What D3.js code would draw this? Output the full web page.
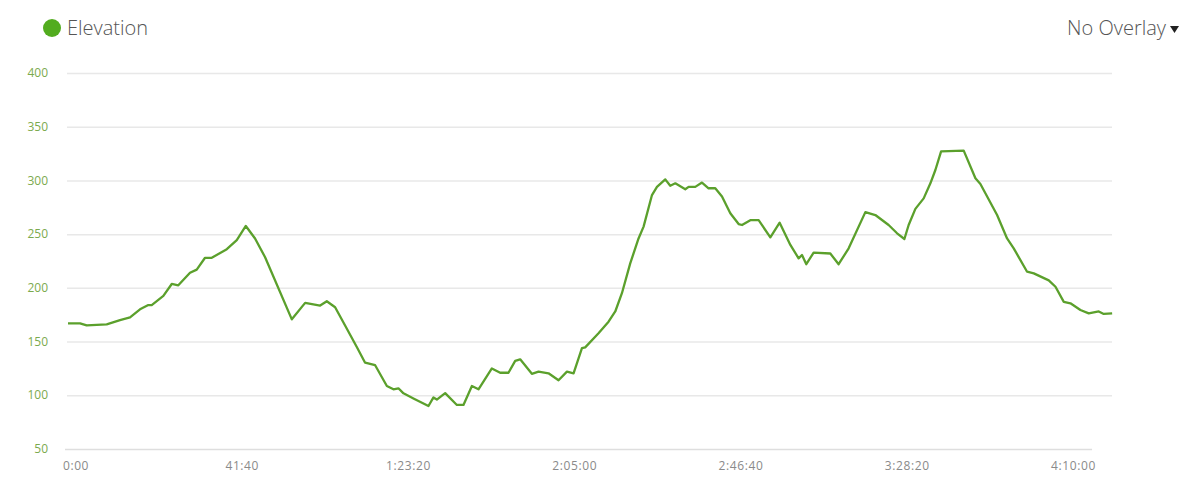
<!DOCTYPE html>
<html>
<head>
<meta charset="utf-8">
<script src="https://cdn.jsdelivr.net/npm/d3@7"></script>
<style>
  body { margin: 0; background: #fff; font-family: "Open Sans", sans-serif; }
  svg { display: block; }
</style>
</head>
<body>
<svg id="chart"></svg>
<script>
// elapsed time in seconds, elevation in metres
const times = [0, 181, 281, 582, 782, 933, 1083, 1208, 1259, 1434, 1560, 1659, 1835, 1936, 2061, 2162, 2388, 2538, 2674, 2813, 2964, 3366, 3566, 3792, 3892, 4017, 4167, 4343, 4468, 4619, 4795, 4894, 4969, 5045, 5195, 5421, 5496, 5547, 5672, 5848, 5947, 6074, 6173, 6374, 6499, 6624, 6725, 6800, 6976, 7076, 7226, 7377, 7503, 7603, 7729, 7778, 7978, 8129, 8230, 8330, 8455, 8580, 8656, 8782, 8857, 8982, 9057, 9133, 9283, 9333, 9433, 9534, 9633, 9734, 9835, 9960, 10085, 10136, 10261, 10386, 10562, 10702, 10863, 10987, 11038, 11103, 11213, 11464, 11589, 11740, 11991, 12141, 12341, 12468, 12578, 12642, 12743, 12868, 12969, 13044, 13130, 13470, 13646, 13721, 13972, 14122, 14222, 14423, 14524, 14749, 14850, 14975, 15075, 15225, 15350, 15501, 15576, 15702];
const elevation = [167, 167, 165, 166, 170, 172.5, 180, 184, 184, 192.5, 203.6, 202.4, 214, 217, 228, 228, 236, 244.5, 257.6, 246, 228.5, 170.7, 186, 183.5, 187.5, 182, 165, 145, 130.3, 128, 108.6, 105.6, 106.5, 101.8, 97, 90, 98, 96, 102, 91, 91, 108.6, 105.6, 125, 121, 121, 132, 133.5, 120, 122, 120.5, 114, 122, 120.4, 144, 144.6, 157.7, 168.5, 178, 195, 222.8, 246, 257, 286.4, 294, 301, 295, 297.3, 291.8, 294, 294, 298, 292.7, 292.7, 285, 269.4, 259.4, 258.5, 263, 263, 247, 260.7, 240, 227.5, 230.6, 222, 232.8, 232, 222, 236.8, 270.5, 267.8, 258.5, 250.8, 245.5, 258.5, 273.5, 283.3, 297.3, 309.7, 327, 327.7, 302, 296.7, 267.8, 246, 236.8, 215, 213.5, 207, 201, 187, 185.6, 179.4, 176.3, 178, 175.7, 176.3];
const yTicks = [50, 100, 150, 200, 250, 300, 350, 400];
const xTicks = [0, 2500, 5000, 7500, 10000, 12500, 15000];

const width = 1200, height = 488;
const margin = { top: 73, right: 88, bottom: 39, left: 68 };

const svg = d3.select("#chart").attr("width", width).attr("height", height);

const x = d3.scaleLinear().domain([0, 15700]).range([margin.left, width - margin.right]);
const y = d3.scaleLinear().domain([50, 400]).range([height - margin.bottom, margin.top]);

const fmtTime = s => {
  const h = Math.floor(s / 3600), m = Math.floor((s % 3600) / 60), sec = s % 60;
  const pad = v => String(v).padStart(2, "0");
  return h > 0 ? `${h}:${pad(m)}:${pad(sec)}` : `${m}:${pad(sec)}`;
};

// grid
svg.append("g")
  .selectAll("line")
  .data(yTicks.filter(d => d !== 50))
  .join("line")
  .attr("x1", margin.left - 1)
  .attr("x2", width - margin.right)
  .attr("y1", d => y(d) + 0.5)
  .attr("y2", d => y(d) + 0.5)
  .attr("stroke", "#e8e8e8")
  .attr("stroke-width", 1.5);

// bottom axis line
svg.append("line")
  .attr("x1", margin.left - 3)
  .attr("x2", x(15400))
  .attr("y1", y(50) + 0.5)
  .attr("y2", y(50) + 0.5)
  .attr("stroke", "#dedede")
  .attr("stroke-width", 1.5);

// y labels
svg.append("g")
  .selectAll("text")
  .data(yTicks)
  .join("text")
  .attr("x", 48)
  .attr("y", d => y(d))
  .attr("dy", "0.35em")
  .attr("text-anchor", "end")
  .attr("fill", "#7caa4e")
  .style("font-size", "12px")
  .text(d => d);

// x labels
svg.append("g")
  .selectAll("text")
  .data(xTicks)
  .join("text")
  .attr("x", d => x(d) + 8)
  .attr("y", 470)
  .attr("text-anchor", "middle")
  .attr("fill", "#8a8a8a")
  .style("font-size", "12px")
  .style("letter-spacing", "0.6px")
  .text(fmtTime);

// line
const line = d3.line()
  .x((d, i) => x(times[i]))
  .y(d => y(d));

svg.append("path")
  .datum(elevation)
  .attr("fill", "none")
  .attr("stroke", "#5ba02c")
  .attr("stroke-width", 2.3)
  .attr("stroke-linejoin", "round")
  .attr("d", line);

// legend
svg.append("circle")
  .attr("cx", 52).attr("cy", 28).attr("r", 9)
  .attr("fill", "#52ac1f");
svg.append("text")
  .attr("x", 67).attr("y", 35)
  .attr("fill", "#555")
  .style("font-size", "20px")
  .style("font-weight", 300)
  .text("Elevation");

// overlay selector
svg.append("text")
  .attr("x", 1166).attr("y", 35)
  .attr("text-anchor", "end")
  .attr("fill", "#555")
  .style("font-size", "20px")
  .style("font-weight", 300)
  .text("No Overlay");
svg.append("path")
  .attr("d", "M1170,26 L1179,26 L1174.5,33 Z")
  .attr("fill", "#222");
</script>
</body>
</html>
